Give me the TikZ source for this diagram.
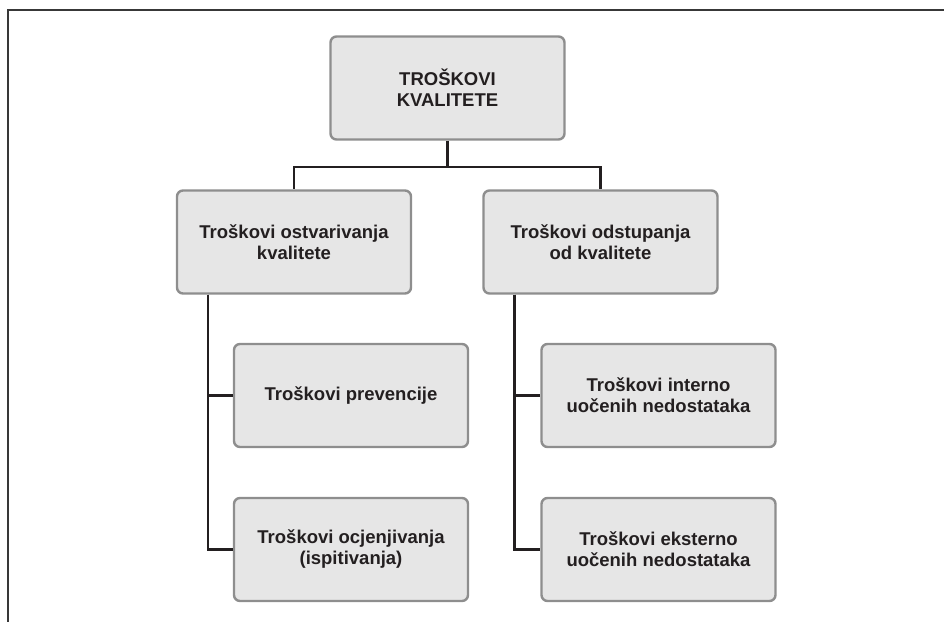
\documentclass[tikz,border=0pt]{standalone}
\usepackage{fontspec}
\setmainfont{Liberation Sans}
\usepackage{tikz}
\usetikzlibrary{calc, positioning}
\definecolor{boxgray}{HTML}{E6E6E6}
\definecolor{boxedge}{HTML}{8E8E8E}
\definecolor{ink}{HTML}{231F20}
\tikzset{
  box/.style={
    rectangle, rounded corners=6pt, minimum width=234pt, minimum height=103pt,
    text centered, align=center, draw=boxedge, line width=2.4pt, fill=boxgray,
    text=ink, font=\fontsize{18.5}{21}\selectfont\bfseries
  },
  link/.style={
    line width=2.4pt, color=ink
  }
}

\begin{document}
\begin{tikzpicture}[x=1pt, y=-1pt,
  frame/.style={line width=2pt, color=black!78}
]
\useasboundingbox (0,0) rectangle (944,622);
\draw[frame] (944,10) -- (8,10) -- (8,622);

\node[box] (root) at (447.5,88) {TROŠKOVI\\KVALITETE};
\node[box] (ostv) at (294,242) {Troškovi ostvarivanja\\kvalitete};
\node[box] (odst) at (600.5,242) {Troškovi odstupanja\\od kvalitete};
\node[box] (prev) at (351,395.5) {Troškovi prevencije};
\node[box] (ocj) at (351,549.5) {Troškovi ocjenjivanja\\(ispitivanja)};
\node[box] (intr) at (658.5,395.5) {Troškovi interno\\uočenih nedostataka};
\node[box] (extr) at (658.5,549.5) {Troškovi eksterno\\uočenih nedostataka};

\coordinate (bus) at (447.5,167);
\coordinate (ltrunk) at ([xshift=32pt]ostv.south west);
\coordinate (rtrunk) at ([xshift=32pt]odst.south west);

\draw[link] (root.south) -- (bus);
\draw[link] (bus) -| (ostv.north);
\draw[link] (bus) -| (odst.north);
\draw[link] (ltrunk) |- (prev.west);
\draw[link] (ltrunk) |- (ocj.west);
\draw[link] (rtrunk) |- (intr.west);
\draw[link] (rtrunk) |- (extr.west);
\end{tikzpicture}
\end{document}
